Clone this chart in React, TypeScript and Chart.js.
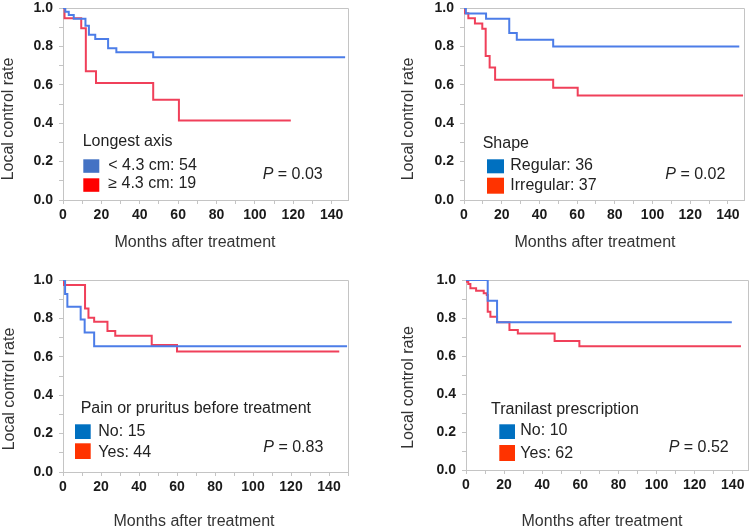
import React, { useEffect, useRef } from 'react';
import { Chart, registerables } from 'chart.js';

Chart.register(...registerables);

const FONT = 'Arial, "Liberation Sans", Helvetica, sans-serif';
const FRAME = '#c4c4c4';
const LINE_BLUE = '#4c7de8';
const LINE_RED = '#f0405a';

// ---------- data ----------
// Panel 1: Longest axis
const p1BlueMonths = [0, 1.2, 3, 5.6, 11.7, 13.5, 16.8, 23.5, 27.8, 47, 147];
const p1BlueRate = [1, 0.981, 0.963, 0.944, 0.907, 0.861, 0.838, 0.791, 0.77, 0.744, 0.744];
const p1RedMonths = [0, 0.8, 9.5, 11.9, 17.2, 47, 60.4, 118.7];
const p1RedRate = [1, 0.947, 0.895, 0.67, 0.609, 0.522, 0.414, 0.414];

// Panel 2: Shape
const p2BlueMonths = [0, 1, 11.7, 24, 28, 47.3, 146];
const p2BlueRate = [1, 0.972, 0.944, 0.87, 0.835, 0.8, 0.8];
const p2RedMonths = [0, 0.5, 2.3, 5.8, 9.7, 11.5, 13.6, 16.5, 47.3, 60.3, 148];
const p2RedRate = [1, 0.973, 0.946, 0.919, 0.892, 0.75, 0.69, 0.626, 0.585, 0.544, 0.544];

// Panel 3: Pain or pruritus
const p3BlueMonths = [0, 1.1, 2.3, 9.3, 11.4, 16.4, 149.5];
const p3BlueRate = [1, 0.927, 0.861, 0.794, 0.727, 0.655, 0.655];
const p3RedMonths = [0, 0.5, 11.6, 13.4, 16.4, 23.4, 27.5, 46.7, 60, 145.4];
const p3RedRate = [1, 0.974, 0.852, 0.804, 0.783, 0.734, 0.71, 0.662, 0.628, 0.628];

// Panel 4: Tranilast prescription
const p4BlueMonths = [0, 11.4, 16.3, 139.5];
const p4BlueRate = [1, 0.891, 0.777, 0.777];
const p4RedMonths = [0, 0.5, 1.2, 2.3, 5.3, 9.3, 10.9, 11.4, 12.8, 16.3, 22.8, 27.2, 46.5, 59.5, 144.3];
const p4RedRate = [1, 0.991, 0.979, 0.956, 0.944, 0.93, 0.921, 0.833, 0.807, 0.777, 0.737, 0.719, 0.679, 0.651, 0.651];

const legendTitles = ['Longest axis', 'Shape', 'Pain or pruritus before treatment', 'Tranilast prescription'];
const groupLabels = [
  ['< 4.3 cm: 54', '\u2265 4.3 cm: 19'],
  ['Regular: 36', 'Irregular: 37'],
  ['No: 15', 'Yes: 44'],
  ['No: 10', 'Yes: 62'],
];
const pValues = ['0.03', '0.02', '0.83', '0.52'];
const xTitle = 'Months after treatment';
const yTitle = 'Local control rate';

// ---------- layout ----------
type Layout = {
  L: number; T: number; R: number; B: number; xMax: number;
  yTitle: [number, number]; xTitle: [number, number];
  legTitle: [number, number];
  swX: number; swW: number; sw: [number, number][]; labX: number; labY: number[];
  p: [number, number];
  swColors: string[];
};

const layouts: Layout[] = [
  {
    L: 63, T: 8, R: 348, B: 200, xMax: 148.5,
    yTitle: [9, 119], xTitle: [195, 243],
    legTitle: [82.7, 141.7],
    swX: 83.3, swW: 16, sw: [[159.3, 13.5], [178.3, 13.5]], labX: 108.3, labY: [165.7, 183.3],
    p: [262.7, 174.3],
    swColors: ['#4472C4', '#FF0000'],
  },
  {
    L: 464, T: 8, R: 744, B: 200, xMax: 148.5,
    yTitle: [409, 119], xTitle: [595, 243],
    legTitle: [482.7, 143.3],
    swX: 487, swW: 17, sw: [[159.3, 14], [177.7, 16]], labX: 510.3, labY: [165.7, 186],
    p: [665.3, 174.3],
    swColors: ['#0070C0', '#FF3300'],
  },
  {
    L: 63, T: 280, R: 348, B: 472, xMax: 150,
    yTitle: [10, 389], xTitle: [194, 521.7],
    legTitle: [80.7, 409],
    swX: 75, swW: 15.7, sw: [[424.3, 14.7], [443.3, 15.7]], labX: 98.3, labY: [431.7, 452.7],
    p: [263.3, 447.3],
    swColors: ['#0070C0', '#FF3300'],
  },
  {
    L: 466, T: 280, R: 748, B: 470, xMax: 148,
    yTitle: [409, 387.5], xTitle: [602, 521.7],
    legTitle: [491, 409.3],
    swX: 499.3, swW: 15.7, sw: [[424.3, 14.7], [445, 16]], labX: 520.3, labY: [431, 453.3],
    p: [668.7, 447.3],
    swColors: ['#0070C0', '#FF3300'],
  },
];

const series = [
  [[p1BlueMonths, p1BlueRate], [p1RedMonths, p1RedRate]],
  [[p2BlueMonths, p2BlueRate], [p2RedMonths, p2RedRate]],
  [[p3BlueMonths, p3BlueRate], [p3RedMonths, p3RedRate]],
  [[p4BlueMonths, p4BlueRate], [p4RedMonths, p4RedRate]],
];

const W = 752;
const H = 531;
const XH = 30;

function makeOverlay(i: number) {
  const lay = layouts[i];
  return {
    id: 'overlay' + i,
    beforeDatasetsDraw(chart: any) {
      const ctx = chart.ctx;
      const a = chart.chartArea;
      ctx.save();
      ctx.strokeStyle = FRAME;
      ctx.lineWidth = 1;
      ctx.beginPath();
      ctx.moveTo(Math.round(a.left) + 0.5, Math.round(a.top) + 0.5);
      ctx.lineTo(Math.round(a.right) + 0.5, Math.round(a.top) + 0.5);
      ctx.lineTo(Math.round(a.right) + 0.5, Math.round(a.bottom) + 0.5);
      ctx.stroke();
      ctx.restore();
    },
    afterDraw(chart: any) {
      const ctx = chart.ctx;
      ctx.save();
      ctx.textBaseline = 'middle';
      // axis titles
      ctx.fillStyle = '#333';
      ctx.font = `16px ${FONT}`;
      ctx.textAlign = 'center';
      ctx.fillText(xTitle, lay.xTitle[0], lay.xTitle[1]);
      ctx.save();
      ctx.translate(lay.yTitle[0], lay.yTitle[1]);
      ctx.rotate(-Math.PI / 2);
      ctx.fillText(yTitle, 0, 0);
      ctx.restore();
      // legend
      ctx.textAlign = 'left';
      ctx.fillStyle = '#222';
      ctx.fillText(legendTitles[i], lay.legTitle[0], lay.legTitle[1]);
      for (let k = 0; k < 2; k++) {
        ctx.fillStyle = lay.swColors[k];
        ctx.fillRect(lay.swX, lay.sw[k][0], lay.swW, lay.sw[k][1]);
        ctx.fillStyle = '#222';
        ctx.fillText(groupLabels[i][k], lay.labX, lay.labY[k]);
      }
      // P value
      ctx.font = `italic 16px ${FONT}`;
      ctx.fillText('P', lay.p[0], lay.p[1]);
      const pw = ctx.measureText('P').width;
      ctx.font = `16px ${FONT}`;
      ctx.fillText(' = ' + pValues[i], lay.p[0] + pw, lay.p[1]);
      ctx.restore();
    },
  };
}

function Panel({ index }: { index: number }) {
  const ref = useRef<HTMLCanvasElement | null>(null);
  useEffect(() => {
    const lay = layouts[index];
    const colors = [LINE_BLUE, LINE_RED];
    const tickFont = { family: FONT, size: 14, weight: 'bold' as const };
    const chart = new Chart(ref.current as HTMLCanvasElement, {
      type: 'line',
      data: {
        datasets: series[index].map((s, k) => ({
          data: (s[0] as number[]).map((m, j) => ({ x: m, y: (s[1] as number[])[j] })),
          borderColor: colors[k],
          backgroundColor: colors[k],
          borderWidth: 2,
          stepped: true,
          pointRadius: 0,
          fill: false,
        })),
      },
      options: {
        responsive: false,
        animation: false,
        devicePixelRatio: 1,
        layout: {
          padding: { left: 0, top: lay.T, right: W - lay.R, bottom: H - lay.B - XH },
        },
        plugins: {
          legend: { display: false },
          tooltip: { enabled: false },
        },
        scales: {
          x: {
            type: 'linear',
            min: 0,
            max: lay.xMax,
            afterFit: (s: any) => {
              s.height = XH;
              s.paddingLeft = 0;
              s.paddingRight = 0;
            },
            ticks: {
              stepSize: 10,
              includeBounds: false,
              autoSkip: false,
              maxRotation: 0,
              padding: 3,
              color: '#1a1a1a',
              font: tickFont,
              callback: (v: any) => (Math.round(v) % 20 === 0 ? String(Math.round(v)) : ''),
            },
            grid: { drawOnChartArea: false, drawTicks: true, tickLength: 4, color: FRAME },
            border: { color: FRAME },
          },
          y: {
            type: 'linear',
            min: 0,
            max: 1,
            afterFit: (s: any) => {
              s.width = lay.L;
              s.paddingTop = 0;
              s.paddingBottom = 0;
            },
            ticks: {
              stepSize: 0.1,
              autoSkip: false,
              padding: 6,
              color: '#1a1a1a',
              font: tickFont,
              callback: (v: any) => (Math.round(v * 10) % 2 === 0 ? Number(v).toFixed(1) : ''),
            },
            grid: { drawOnChartArea: false, drawTicks: true, tickLength: 4, color: FRAME },
            border: { color: FRAME },
          },
        },
      },
      plugins: [makeOverlay(index)],
    } as any);
    return () => chart.destroy();
  }, [index]);
  return (
    <canvas
      ref={ref}
      width={W}
      height={H}
      style={{ position: 'absolute', left: 0, top: 0, width: W, height: H }}
    />
  );
}

export default function App() {
  return (
    <div style={{ position: 'fixed', left: 0, top: 0, width: W, height: H, background: '#fff', overflow: 'hidden' }}>
      {[0, 1, 2, 3].map((i) => (
        <Panel key={i} index={i} />
      ))}
    </div>
  );
}
